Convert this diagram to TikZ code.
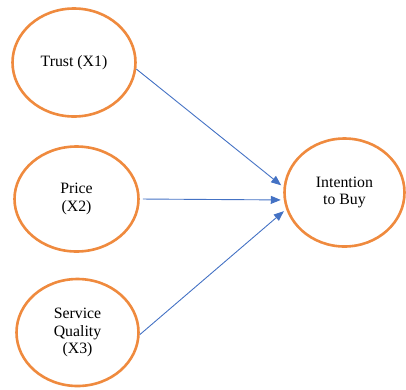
\documentclass[tikz,border=0pt]{standalone}
\usepackage{fontspec}
\setmainfont{Liberation Serif}
\usetikzlibrary{arrows.meta,shapes.geometric}
\definecolor{ringorange}{HTML}{EF8A3E}
\definecolor{linkblue}{HTML}{4472C4}
\tikzset{
  construct/.style={ellipse, draw=ringorange, line width=2.6pt, inner sep=0pt,
    align=center, font=\fontsize{15.8}{17.7}\selectfont},
  link/.style={draw=linkblue, line width=0.9pt,
    -{Triangle[length=10pt,width=8pt]}, shorten >=3pt}
}
\begin{document}
\begin{tikzpicture}[x=1pt,y=-1pt]
  \useasboundingbox (0,0) rectangle (406,389);
  % predictor constructs
  \node[construct, minimum width=123pt, minimum height=108pt] (trust) at (74,62.5) {Trust (X1)};
  \node[construct, minimum width=124pt, minimum height=105pt] (price) at (76.5,199) {Price\\(X2)};
  \node[construct, minimum width=122pt, minimum height=107pt] (service) at (77.5,332.5) {Service\\Quality\\(X3)};
  % outcome construct
  \node[construct, minimum width=120pt, minimum height=108pt] (intent) at (344.5,192.5) {Intention\\to Buy};
  % paths
  \draw[link] (trust.-6) -- (intent.175);
  \draw[link, shorten <=3pt] (price.east) -- (intent.187);
  \draw[link] (service.-2) -- (intent.196);
\end{tikzpicture}
\end{document}
